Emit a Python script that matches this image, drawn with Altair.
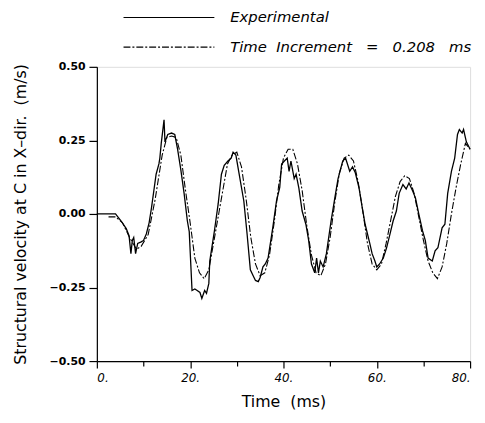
import altair as alt
import pandas as pd

# Experimental (solid) series
exp_t = [0, 4.0, 5.2, 6.3, 6.9, 7.3, 7.6, 7.9, 8.3, 8.75, 9.5, 10.0, 10.6, 11.2, 11.7,
         12.7, 13.3, 13.5, 13.8, 14.4, 14.6, 15.2, 16.0, 16.7, 17.3, 18.0, 18.7, 19.4,
         19.8, 20.4, 21.0, 21.5, 22.1, 22.5, 23.1, 23.5, 24.0, 24.2, 25.2, 26.0, 26.7,
         27.3, 28.1, 28.8, 29.2, 29.8, 30.4, 31.5, 32.2, 32.9, 33.5, 34.0, 34.6, 35.0,
         35.6, 36.1, 36.7, 37.7, 38.5, 39.2, 39.6, 40.2, 40.8, 41.2, 41.6, 42.3, 42.7,
         43.3, 44.0, 44.8, 45.4, 46.0, 46.7, 47.1, 47.5, 47.9, 48.5, 49.2, 50.2, 51.0,
         51.7, 52.7, 53.3, 54.2, 54.8, 55.4, 56.2, 56.9, 57.5, 58.5, 59.0, 59.6, 60.0,
         60.6, 61.4, 62.1, 62.8, 63.5, 64.2, 64.8, 65.6, 66.3, 66.9, 67.7, 68.3, 69.0,
         69.8, 70.4, 71.0, 71.9, 72.5, 73.1, 74.0, 74.6, 75.2, 76.0, 76.7, 77.3, 77.7,
         78.3, 78.6, 79.2, 80.0]
exp_v = [0, 0, -0.024, -0.05, -0.074, -0.135, -0.09, -0.08, -0.135, -0.10, -0.095, -0.09,
         -0.068, -0.03, 0.02, 0.135, 0.17, 0.19, 0.24, 0.32, 0.245, 0.27, 0.275, 0.27, 0.22,
         0.15, 0.07, -0.024, -0.06, -0.26, -0.255, -0.26, -0.267, -0.287, -0.26, -0.27,
         -0.236, -0.16, -0.057, 0.034, 0.135, 0.165, 0.18, 0.19, 0.21, 0.20, 0.145, 0.044,
         -0.068, -0.19, -0.21, -0.226, -0.23, -0.216, -0.18, -0.17, -0.15, -0.047, 0.044,
         0.09, 0.17, 0.18, 0.19, 0.145, 0.18, 0.12, 0.135, 0.088, 0.01, -0.035, -0.09,
         -0.17, -0.20, -0.15, -0.2, -0.16, -0.18, -0.135, -0.024, 0.054, 0.12, 0.18, 0.19,
         0.145, 0.16, 0.14, 0.088, 0.02, -0.035, -0.10, -0.135, -0.16, -0.18, -0.17, -0.15,
         -0.115, -0.07, -0.024, 0.01, 0.07, 0.10, 0.085, 0.105, 0.078, 0.054, 0.0, -0.057,
         -0.09, -0.15, -0.16, -0.125, -0.115, -0.047, -0.035, 0.07, 0.145, 0.19, 0.27,
         0.287, 0.275, 0.287, 0.245, 0.22]

# Simulation (dash-dot) series
sim_t = [2.5, 4, 5.5, 7, 8.5, 9.5, 11, 12.5, 14, 15, 16, 17, 18, 19, 20, 21, 22, 23, 24,
         25, 26, 27, 28, 29, 30, 31, 32, 33, 34, 35, 36, 37, 38, 39, 40, 41, 42, 43, 44,
         45, 46, 47, 48, 49, 50, 51, 52, 53, 54, 55, 56, 57, 58, 59, 60, 61, 62, 63, 64,
         65, 66, 67, 68, 69, 70, 71, 72, 73, 74, 75, 76, 77, 78, 79, 80]
sim_v = [-0.01, -0.01, -0.03, -0.08, -0.12, -0.11, -0.07, 0.05, 0.20, 0.26, 0.265, 0.26,
         0.20, 0.08, -0.03, -0.15, -0.20, -0.22, -0.19, -0.10, -0.01, 0.08, 0.17, 0.20,
         0.21, 0.16, 0.05, -0.08, -0.17, -0.21, -0.20, -0.14, -0.03, 0.10, 0.19, 0.22,
         0.22, 0.17, 0.08, -0.04, -0.14, -0.20, -0.21, -0.17, -0.08, 0.04, 0.14, 0.19,
         0.20, 0.18, 0.11, 0.01, -0.10, -0.17, -0.19, -0.17, -0.10, -0.02, 0.06, 0.11,
         0.13, 0.12, 0.07, -0.01, -0.09, -0.16, -0.20, -0.22, -0.18, -0.10, 0.00, 0.09,
         0.17, 0.24, 0.22]

NB = "\u00a0"
legend_labels = ["Experimental",
                 f"Time{NB}{NB}Increment{NB}{NB}{NB}={NB}{NB}{NB}0.208{NB}{NB}{NB}ms"]

exp_df = pd.DataFrame({"t": exp_t, "v": exp_v})
sim_df = pd.DataFrame({"t": sim_t, "v": sim_v})
leg_df = pd.DataFrame({"label": legend_labels})

FONT = "DejaVu Sans"

x_scale = alt.Scale(domain=[0, 80], nice=False, zero=False)
y_scale = alt.Scale(domain=[-0.5, 0.5], nice=False, zero=False)

x_axis = alt.Axis(
    values=list(range(0, 81, 10)),
    labelExpr="datum.value % 20 === 0 ? datum.value + '.' : ''",
    tickSize={"condition": {"test": "datum.value % 20 === 0", "value": 7}, "value": 5},
    grid=False, domainColor="black", tickColor="black", domainWidth=1.2, tickWidth=1.2,
    labelFont=FONT, labelFontSize=12, labelFontStyle="italic", labelColor="black",
    labelPadding=5, title=f"Time{NB}{NB}(ms)", titleFont=FONT, titleFontSize=16,
    titleFontWeight="normal", titleColor="black", titlePadding=10,
)
y_axis = alt.Axis(
    values=[-0.5, -0.375, -0.25, -0.125, 0, 0.125, 0.25, 0.375, 0.5],
    labelExpr="abs(datum.value*4 - round(datum.value*4)) < 1e-6 ? format(datum.value, '.2f') : ''",
    tickSize={"condition": {"test": "abs(datum.value*4 - round(datum.value*4)) < 1e-6", "value": 8}, "value": 5},
    grid=False, domainColor="black", tickColor="black", domainWidth=1.2, tickWidth=1.2,
    labelFont=FONT, labelFontSize=11, labelFontWeight="bold", labelColor="black", labelPadding=4,
    title=f"Structural{NB}velocity{NB}at{NB}C{NB}in{NB}X\u2013dir.{NB}{NB}(m/s)",
    titleFont=FONT, titleFontSize=16,
    titleFontWeight="normal", titleColor="black", titlePadding=21,
)

exp_line = alt.Chart(exp_df).mark_line(color="black", strokeWidth=1.3).encode(
    x=alt.X("t:Q", scale=x_scale, axis=x_axis),
    y=alt.Y("v:Q", scale=y_scale, axis=y_axis),
)
sim_line = alt.Chart(sim_df).mark_line(color="black", strokeWidth=1.1, strokeDash=[7, 2, 2, 2]).encode(
    x=alt.X("t:Q", scale=x_scale),
    y=alt.Y("v:Q", scale=y_scale),
)

leg_solid = alt.Chart(leg_df.iloc[[0]]).mark_rule(color="black", strokeWidth=1.2).encode(
    x=alt.value(27), x2=alt.value(119), y=alt.value(-50)
)
leg_dash = alt.Chart(leg_df.iloc[[1]]).mark_rule(color="black", strokeWidth=1.1, strokeDash=[7, 2, 2, 2]).encode(
    x=alt.value(27), x2=alt.value(119), y=alt.value(-20)
)
leg_text1 = alt.Chart(leg_df.iloc[[0]]).mark_text(
    align="left", baseline="middle", font=FONT, fontSize=15, fontStyle="italic", color="black"
).encode(x=alt.value(135), y=alt.value(-50), text="label:N")
leg_text2 = alt.Chart(leg_df.iloc[[1]]).mark_text(
    align="left", baseline="middle", font=FONT, fontSize=15, fontStyle="italic", color="black"
).encode(x=alt.value(135), y=alt.value(-20), text="label:N")

chart = alt.layer(exp_line, sim_line, leg_solid, leg_dash, leg_text1, leg_text2).properties(
    width=378, height=298,
    autosize=alt.AutoSizeParams(type="none"),
    padding={"left": 90, "top": 57, "right": 7, "bottom": 50},
).configure_view(stroke=None).configure(background="white")

chart.save("out.html", embed_options={"renderer": "svg", "actions": False})
